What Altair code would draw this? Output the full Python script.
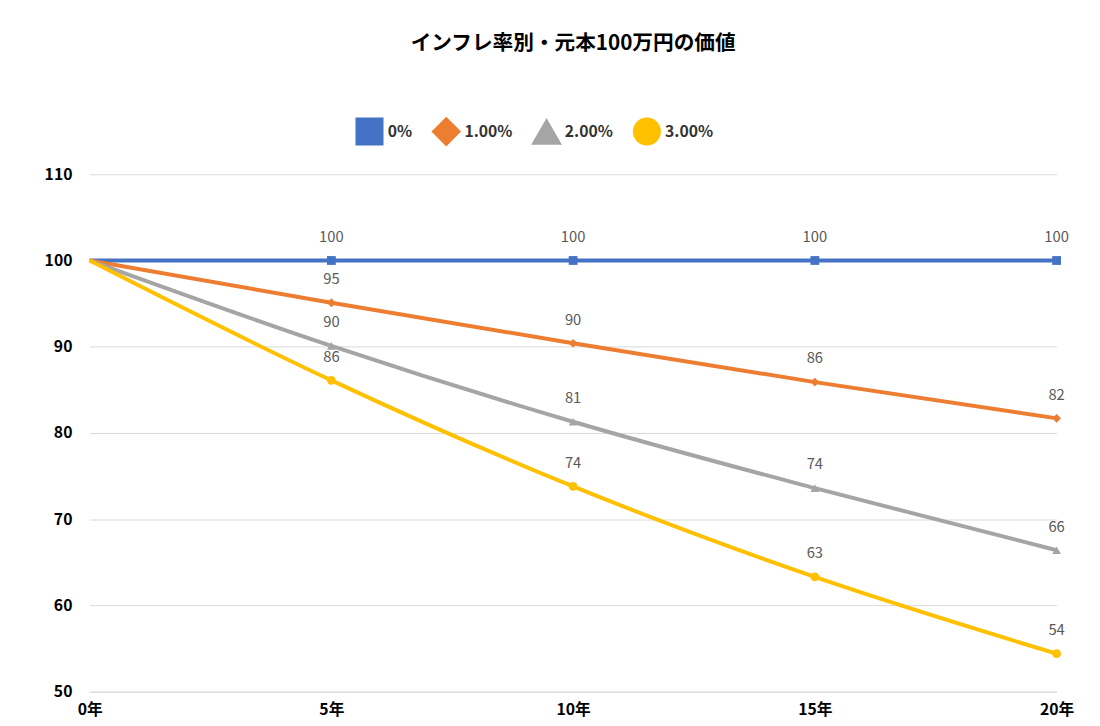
import altair as alt
import pandas as pd

years = ["0年", "5年", "10年", "15年", "20年"]
series = ["0%", "1.00%", "2.00%", "3.00%"]
v0 = [100, 100, 100, 100, 100]
v1 = [100, 95.1, 90.4, 85.9, 81.7]
v2 = [100, 90.1, 81.3, 73.6, 66.4]
v3 = [100, 86.1, 73.8, 63.3, 54.4]
colors = ["#4472C4", "#ED7D31", "#A5A5A5", "#FFC000"]
shapes = ["square", "diamond", "triangle-up", "circle"]

rows = []
for s, vals in zip(series, [v0, v1, v2, v3]):
    for i, (y, v) in enumerate(zip(years, vals)):
        rows.append({"year": y, "series": s, "marker": s, "value": v,
                     "first": i == 0, "label": str(int(round(v)))})
df = pd.DataFrame(rows)

font = "Noto Sans CJK JP"
x = alt.X("year:N", sort=years, title=None,
          scale=alt.Scale(type="point", padding=0),
          axis=alt.Axis(labelAngle=0, labelFontSize=16, labelFontWeight="bold",
                        labelColor="#000", domainColor="#d9d9d9", ticks=False,
                        labelPadding=10))
y = alt.Y("value:Q", title=None, scale=alt.Scale(domain=[50, 110]),
          axis=alt.Axis(values=[50, 60, 70, 80, 90, 100, 110], labelFontSize=16,
                        labelFontWeight="bold", labelColor="#000", domain=False,
                        ticks=False, gridColor="#d9d9d9", labelPadding=18))
color = alt.Color("series:N", sort=series, title=None,
                  scale=alt.Scale(domain=series, range=colors),
                  legend=alt.Legend(orient="none", legendX=270, legendY=-58,
                                    direction="horizontal",
                                    symbolType="stroke", symbolStrokeWidth=4,
                                    symbolSize=600, labelFontSize=16,
                                    labelFontWeight="bold", labelColor="#333",
                                    columnPadding=14))

base = alt.Chart(df).encode(x=x, y=y, color=color)
lines = base.mark_line(strokeWidth=4, interpolate="monotone")
pts = base.transform_filter("!datum.first").mark_point(filled=True, size=80, opacity=1).encode(
    shape=alt.Shape("marker:N", sort=series,
                    scale=alt.Scale(domain=series, range=shapes), legend=None))
labels = base.transform_filter("!datum.first").mark_text(
    dy=-24, fontSize=15, color="#595959", font=font).encode(
    text="label:N", color=alt.value("#595959"))

chart = alt.layer(lines, pts, labels).properties(
    width=983, height=526,
    title=alt.TitleParams("インフレ率別・元本100万円の価値", fontSize=21,
                          fontWeight="bold", color="#000", font=font, offset=64),
    padding={"left": 36, "top": 20, "right": 18, "bottom": 10},
).configure(font=font).configure_view(stroke=None)

chart.save("out.html", embed_options={"renderer": "svg", "actions": False})
